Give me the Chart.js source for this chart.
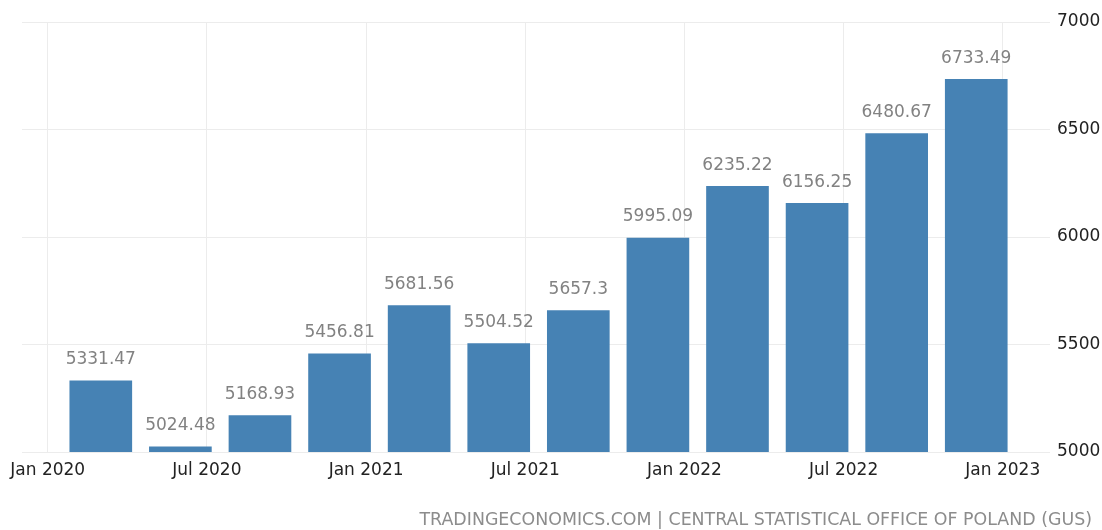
<!DOCTYPE html>
<html>
<head>
<meta charset="utf-8">
<title>Poland average wages</title>
<script src="https://cdn.jsdelivr.net/npm/chart.js@4/dist/chart.umd.min.js"></script>
<style>
  html, body { margin: 0; padding: 0; background: #fff; }
  #wrap { position: relative; width: 1102px; height: 530px; }
  #source {
    position: absolute; right: 10px; top: 509px;
    font: 17.4px "DejaVu Sans", sans-serif; color: #8c8c8c;
    white-space: nowrap;
  }
</style>
</head>
<body>
<div id="wrap">
  <canvas id="wages" width="1102" height="530"></canvas>
  <div id="source">TRADINGECONOMICS.COM | CENTRAL STATISTICAL OFFICE OF POLAND (GUS)</div>
</div>
<script>
// quarter end months and average wage values (PLN)
const quarters = ["2020-03", "2020-06", "2020-09", "2020-12",
                  "2021-03", "2021-06", "2021-09", "2021-12",
                  "2022-03", "2022-06", "2022-09", "2022-12"];
const wages = [5331.47, 5024.48, 5168.93, 5456.81,
               5681.56, 5504.52, 5657.3, 5995.09,
               6235.22, 6156.25, 6480.67, 6733.49];
const xTickLabels = ["Jan 2020", "Jul 2020", "Jan 2021", "Jul 2021",
                     "Jan 2022", "Jul 2022", "Jan 2023"];
const yTicks = [5000, 5500, 6000, 6500, 7000];

const monthNames = ["Jan", "Feb", "Mar", "Apr", "May", "Jun",
                    "Jul", "Aug", "Sep", "Oct", "Nov", "Dec"];

// months counted from Jan 2020; each bar sits on its quarter's last month
function monthIndex(year, month) {
    return (year - 2020) * 12 + (month - 1);
}
const barX = quarters.map(q => {
    const [y, m] = q.split("-").map(Number);
    return monthIndex(y, m);
});
const tickX = xTickLabels.map(t => {
    const [mon, y] = t.split(" ");
    return monthIndex(Number(y), monthNames.indexOf(mon) + 1);
});

const gridColor = "#ececec";
const font = { family: "'DejaVu Sans', sans-serif", size: 17 };

// value labels above each bar
const valueLabels = {
    id: "valueLabels",
    afterDatasetsDraw(chart) {
        const ctx = chart.ctx;
        const meta = chart.getDatasetMeta(0);
        ctx.save();
        ctx.font = "17px 'DejaVu Sans', sans-serif";
        ctx.fillStyle = "#828282";
        ctx.textAlign = "center";
        ctx.textBaseline = "middle";
        meta.data.forEach((bar, i) => {
            ctx.fillText(String(wages[i]), bar.x, bar.y - 21);
        });
        ctx.restore();
    }
};

new Chart(document.getElementById("wages"), {
    type: "bar",
    data: {
        datasets: [{
            data: barX.map((x, i) => ({ x: x, y: wages[i] })),
            backgroundColor: "#4682b4",
            borderWidth: 0,
            barThickness: 62
        }]
    },
    options: {
        responsive: false,
        animation: false,
        layout: { padding: { left: 22, top: 22, right: 0, bottom: 0 } },
        plugins: {
            legend: { display: false },
            tooltip: { enabled: false }
        },
        scales: {
            x: {
                type: "linear",
                offset: false,
                min: -0.97,
                max: 37.78,
                afterBuildTicks(scale) {
                    scale.ticks = tickX.map(v => ({ value: v }));
                },
                afterFit(scale) { scale.height = 78; },
                ticks: {
                    callback: (v) => xTickLabels[tickX.indexOf(v)],
                    color: "#222",
                    font: font,
                    padding: 8,
                    maxRotation: 0,
                    autoSkip: false
                },
                grid: { color: gridColor, drawTicks: false, offset: false },
                border: { display: false }
            },
            y: {
                position: "right",
                min: yTicks[0],
                max: yTicks[yTicks.length - 1],
                afterBuildTicks(scale) {
                    scale.ticks = yTicks.map(v => ({ value: v }));
                },
                afterFit(scale) { scale.width = 52; },
                ticks: {
                    callback: (v) => String(v),
                    color: "#222",
                    font: font,
                    padding: 7
                },
                grid: { color: gridColor, drawTicks: false },
                border: { display: false }
            }
        }
    },
    plugins: [valueLabels]
});
</script>
</body>
</html>
